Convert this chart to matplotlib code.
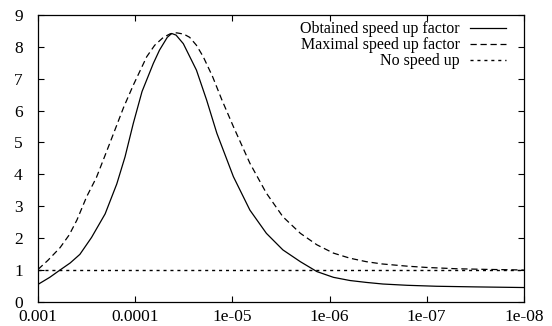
import numpy as np
import matplotlib.pyplot as plt
from matplotlib.ticker import FixedLocator, NullLocator

plt.rcParams['font.family'] = ['Liberation Serif', 'DejaVu Serif']

# x positions as powers of ten (x = 10**exp)
obtained_exp = [-3.0, -3.12, -3.226, -3.33, -3.43, -3.55, -3.69, -3.81, -3.895, -3.98,
                -4.07, -4.186, -4.25, -4.33, -4.375, -4.42, -4.495, -4.63, -4.735, -4.84,
                -5.01, -5.18, -5.35, -5.52, -5.70, -5.87, -6.04, -6.21, -6.38, -6.55,
                -6.8, -7.1, -7.5, -8.0]
obtained_val = [0.55, 0.77, 1.0, 1.22, 1.49, 2.02, 2.76, 3.7, 4.55, 5.6,
                6.6, 7.48, 7.9, 8.3, 8.42, 8.37, 8.1, 7.27, 6.33, 5.29,
                3.93, 2.88, 2.15, 1.63, 1.26, 0.95, 0.77, 0.67, 0.61, 0.56,
                0.52, 0.49, 0.47, 0.45]

maximal_exp = [-3.0, -3.1, -3.226, -3.32, -3.40, -3.50, -3.60, -3.69, -3.76, -3.88,
               -3.98, -4.118, -4.2, -4.29, -4.36, -4.427, -4.5, -4.56, -4.63, -4.70,
               -4.797, -4.89, -5.01, -5.18, -5.35, -5.52, -5.70, -5.87, -6.04, -6.21,
               -6.38, -6.54, -6.8, -7.0, -7.3, -7.6, -8.0]
maximal_val = [1.02, 1.3, 1.7, 2.1, 2.57, 3.3, 3.9, 4.6, 5.15, 6.1,
               6.8, 7.69, 8.05, 8.3, 8.41, 8.44, 8.4, 8.3, 8.05, 7.69,
               7.06, 6.35, 5.5, 4.35, 3.41, 2.67, 2.15, 1.79, 1.53, 1.37,
               1.26, 1.19, 1.12, 1.08, 1.04, 1.02, 1.0]

nospeed_exp = [-3.0, -8.0]
nospeed_val = [1.0, 1.0]

xtick_vals = [1e-3, 1e-4, 1e-5, 1e-6, 1e-7, 1e-8]
xtick_labels = ['0.001', '0.0001', '1e-05', '1e-06', '1e-07', '1e-08']
ytick_vals = [0, 1, 2, 3, 4, 5, 6, 7, 8, 9]

fig = plt.figure(figsize=(5.52, 3.26), dpi=100)
ax = fig.add_axes([0.069, 0.074, 0.880, 0.880])

ax.plot(10.0 ** np.array(obtained_exp), obtained_val, color='black', lw=0.9,
        label='Obtained speed up factor')
ax.plot(10.0 ** np.array(maximal_exp), maximal_val, color='black', lw=0.9,
        dashes=(5, 3), label='Maximal speed up factor')
ax.plot(10.0 ** np.array(nospeed_exp), nospeed_val, color='black', lw=1.0,
        dashes=(2.2, 2.8), label='No speed up')

ax.set_xscale('log')
ax.set_xlim(1e-3, 1e-8)
ax.set_ylim(0, 9)

ax.xaxis.set_major_locator(FixedLocator(xtick_vals))
ax.set_xticklabels(xtick_labels)
ax.xaxis.set_minor_locator(NullLocator())
ax.set_yticks(ytick_vals)

ax.tick_params(direction='in', top=True, right=True, labelsize=12.5,
               width=0.8, length=4)
ax.tick_params(axis='x', pad=5)
ax.tick_params(axis='y', pad=11)
for s in ax.spines.values():
    s.set_linewidth(0.9)

ax.legend(loc='upper right', frameon=False, markerfirst=False, fontsize=11.5,
          handlelength=2.3, handletextpad=0.6, labelspacing=0.0,
          borderaxespad=0.15, bbox_to_anchor=(0.982, 1.008))

fig.savefig('out.png', dpi=100)
